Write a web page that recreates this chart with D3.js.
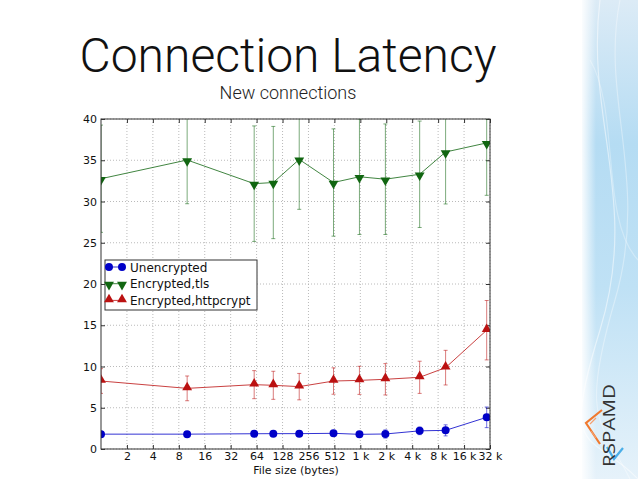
<!DOCTYPE html>
<html>
<head>
<meta charset="utf-8">
<script src="https://cdn.jsdelivr.net/npm/d3@7"></script>
<style>
  html, body { margin: 0; padding: 0; background: #fff; }
  svg { display: block; }
  .tick text { font-family: "DejaVu Sans", sans-serif; }
</style>
</head>
<body>
<script>
// File sizes (bytes) for each measurement.
const sizes = [1, 10, 60, 100, 200, 500, 1000, 2000, 5000, 10000, 30000];

// Latency values.
const unencrypted = [1.8, 1.8, 1.85, 1.86, 1.86, 1.9, 1.78, 1.82, 2.2, 2.26, 3.84];
const unencryptedErr = [0.2, 0.2, 0.3, 0.3, 0.3, 0.3, 0.3, 0.5, 0.46, 0.67, 1.25];
const tls = [32.76, 35.03, 32.16, 32.3, 35.1, 32.3, 33.0, 32.7, 33.3, 36.0, 37.1];
const tlsErr = [6.5, 5.3, 7.0, 6.8, 6.05, 6.5, 7.0, 6.7, 6.45, 6.3, 6.35];
const httpcrypt = [8.24, 7.35, 7.8, 7.72, 7.56, 8.24, 8.32, 8.45, 8.69, 9.86, 14.4];
const httpcryptErr = [1.5, 1.5, 1.7, 1.7, 1.6, 1.6, 1.7, 1.9, 1.95, 2.1, 3.6];

const xTicks = [2, 4, 8, 16, 32, 64, 128, 256, 512, 1024, 2048, 4096, 8192, 16384, 32768];
const yTicks = [0, 5, 10, 15, 20, 25, 30, 35, 40];

const seriesNames = ['Unencrypted', 'Encrypted,tls', 'Encrypted,httpcrypt'];
const seriesColors = ['#0000c8', '#116611', '#bb1111'];
const seriesMarkers = ['circle', 'down', 'up'];

const WIDTH = 638, HEIGHT = 479;
const PLOT = { left: 101, top: 119, right: 490, bottom: 449 };

var svg = d3.select('body').append('svg')
    .attr('width', WIDTH)
    .attr('height', HEIGHT);

// Side strip with the logo.
var defs = svg.append('defs');
var grad = defs.append('linearGradient')
    .attr('id', 'strip')
    .attr('x1', 0).attr('y1', 0).attr('x2', 0).attr('y2', 1);
grad.append('stop').attr('offset', '0%').attr('stop-color', '#dcebf6');
grad.append('stop').attr('offset', '30%').attr('stop-color', '#b5dcf3');
grad.append('stop').attr('offset', '60%').attr('stop-color', '#bfe1f5');
grad.append('stop').attr('offset', '100%').attr('stop-color', '#e6f2fa');
var gradL = defs.append('linearGradient')
    .attr('id', 'stripEdge')
    .attr('x1', 0).attr('y1', 0).attr('x2', 1).attr('y2', 0);
gradL.append('stop').attr('offset', '0%').attr('stop-color', '#fff').attr('stop-opacity', 0.9);
gradL.append('stop').attr('offset', '100%').attr('stop-color', '#fff').attr('stop-opacity', 0);

svg.append('rect')
    .attr('x', 582).attr('y', 0).attr('width', WIDTH - 582).attr('height', HEIGHT)
    .attr('fill', 'url(#strip)');
svg.append('rect')
    .attr('x', 582).attr('y', 0).attr('width', 14).attr('height', HEIGHT)
    .attr('fill', 'url(#stripEdge)');
// a few faint swooshes
[['M 600 0 C 585 120, 640 200, 600 330 S 590 430, 638 479', 0.5],
 ['M 620 0 C 600 100, 650 180, 615 300 S 600 420, 630 479', 0.35],
 ['M 590 60 C 620 110, 600 220, 638 260', 0.3]].forEach(function(p) {
    svg.append('path').attr('d', p[0]).attr('fill', 'none')
        .attr('stroke', '#fff').attr('stroke-opacity', p[1]).attr('stroke-width', 1.2);
});

// Logo.
svg.append('path')
    .attr('d', 'M 602 410 L 586 423 L 600 444')
    .attr('fill', 'none').attr('stroke', '#f07a30').attr('stroke-width', 2.2);
svg.append('path')
    .attr('d', 'M 596 418 L 590 424 M 591 431 L 596 438')
    .attr('fill', 'none').attr('stroke', '#f5a070').attr('stroke-width', 1.2);
svg.append('path')
    .attr('d', 'M 607 447 L 614 459 L 623 448')
    .attr('fill', 'none').attr('stroke', '#4aaee8').attr('stroke-width', 2.2);
svg.append('text')
    .attr('transform', 'translate(615,467) rotate(-90)')
    .attr('font-family', '"Open Sans", "Noto Sans", sans-serif')
    .attr('font-size', 17)
    .attr('textLength', 83)
    .attr('lengthAdjust', 'spacingAndGlyphs')
    .attr('fill', '#333')
    .text('RSPAMD');

// Title.
svg.append('text')
    .attr('x', 288).attr('y', 72)
    .attr('text-anchor', 'middle')
    .attr('font-family', 'Roboto, "Liberation Sans", sans-serif')
    .attr('font-weight', 300)
    .attr('font-size', 48)
    .attr('fill', '#111')
    .text('Connection Latency');
svg.append('text')
    .attr('x', 288).attr('y', 99)
    .attr('text-anchor', 'middle')
    .attr('font-family', 'Roboto, "Liberation Sans", sans-serif')
    .attr('font-weight', 300)
    .attr('font-size', 18)
    .attr('fill', '#222')
    .text('New connections');

// Scales.
var x = d3.scaleLog().base(2).domain([1, 32768]).range([PLOT.left, PLOT.right]);
var y = d3.scaleLinear().domain([0, 40]).range([PLOT.bottom, PLOT.top]);

// Grid.
var grid = svg.append('g');
grid.selectAll('.vgrid').data(xTicks).enter().append('line')
    .attr('x1', d => x(d)).attr('x2', d => x(d))
    .attr('y1', PLOT.top).attr('y2', PLOT.bottom);
grid.selectAll('.hgrid').data(yTicks).enter().append('line')
    .attr('x1', PLOT.left).attr('x2', PLOT.right)
    .attr('y1', d => y(d)).attr('y2', d => y(d));
grid.selectAll('line')
    .attr('stroke', '#a8a8a8')
    .attr('stroke-width', 0.8)
    .attr('stroke-dasharray', '1,2');

// Axes (ticks pointing inwards, like matplotlib's classic style).
var fmt = d => d >= 1024 ? (d / 1024) + ' k' : String(d);
svg.append('g')
    .attr('transform', `translate(0,${PLOT.bottom})`)
    .call(d3.axisBottom(x).tickValues(xTicks).tickFormat(fmt).tickSizeInner(-4).tickSizeOuter(0).tickPadding(3));
svg.append('g')
    .attr('transform', `translate(${PLOT.left},0)`)
    .call(d3.axisLeft(y).tickValues(yTicks).tickSizeInner(-4).tickSizeOuter(0).tickPadding(4));
svg.append('g')
    .attr('transform', `translate(0,${PLOT.top})`)
    .call(d3.axisTop(x).tickValues(xTicks).tickFormat('').tickSizeInner(-4).tickSizeOuter(0));
svg.append('g')
    .attr('transform', `translate(${PLOT.right},0)`)
    .call(d3.axisRight(y).tickValues(yTicks).tickFormat('').tickSizeInner(-4).tickSizeOuter(0));
svg.selectAll('.domain').remove();
svg.selectAll('.tick line').attr('stroke', '#333');
svg.selectAll('.tick text').attr('font-size', 11).attr('fill', '#111');

svg.append('text')
    .attr('x', 296).attr('y', 474)
    .attr('text-anchor', 'middle')
    .attr('font-family', '"DejaVu Sans", sans-serif')
    .attr('font-size', 11)
    .attr('fill', '#111')
    .text('File size (bytes)');

// Data series.
defs.append('clipPath').attr('id', 'plotclip')
    .append('rect')
    .attr('x', PLOT.left).attr('y', PLOT.top)
    .attr('width', PLOT.right - PLOT.left).attr('height', PLOT.bottom - PLOT.top);

var series = [
    { values: unencrypted, errors: unencryptedErr },
    { values: tls, errors: tlsErr },
    { values: httpcrypt, errors: httpcryptErr }
].map((s, i) => ({
    name: seriesNames[i],
    color: seriesColors[i],
    marker: seriesMarkers[i],
    points: sizes.map((sz, j) => ({ x: sz, v: s.values[j], e: s.errors[j] }))
}));

function markerPath(kind) {
    if (kind === 'circle') return d3.symbol().type(d3.symbolCircle).size(50)();
    return d3.symbol().type(d3.symbolTriangle).size(42)();
}
function markerTransform(kind, px, py) {
    return kind === 'down'
        ? `translate(${px},${py + 1}) rotate(180)`
        : `translate(${px},${py - (kind === 'up' ? 1 : 0)})`;
}

var plot = svg.append('g').attr('clip-path', 'url(#plotclip)');
var line = d3.line().x(d => x(d.x)).y(d => y(d.v));

series.forEach(function(s) {
    var g = plot.append('g');
    // error bars
    var eb = g.selectAll('.err').data(s.points).enter().append('g')
        .attr('stroke', s.color).attr('stroke-opacity', 0.55).attr('stroke-width', 1);
    eb.append('line')
        .attr('x1', d => x(d.x)).attr('x2', d => x(d.x))
        .attr('y1', d => y(d.v - d.e)).attr('y2', d => y(d.v + d.e));
    eb.append('line')
        .attr('x1', d => x(d.x) - 2).attr('x2', d => x(d.x) + 2)
        .attr('y1', d => y(d.v - d.e)).attr('y2', d => y(d.v - d.e));
    eb.append('line')
        .attr('x1', d => x(d.x) - 2).attr('x2', d => x(d.x) + 2)
        .attr('y1', d => y(d.v + d.e)).attr('y2', d => y(d.v + d.e));
    // line
    g.append('path')
        .datum(s.points)
        .attr('d', line)
        .attr('fill', 'none')
        .attr('stroke', s.color)
        .attr('stroke-opacity', 0.8)
        .attr('stroke-width', 1);
    // markers
    g.selectAll('.mk').data(s.points).enter().append('path')
        .attr('d', markerPath(s.marker))
        .attr('transform', d => markerTransform(s.marker, x(d.x), y(d.v)))
        .attr('fill', s.color);
});

// Frame.
svg.append('rect')
    .attr('x', PLOT.left).attr('y', PLOT.top)
    .attr('width', PLOT.right - PLOT.left).attr('height', PLOT.bottom - PLOT.top)
    .attr('fill', 'none').attr('stroke', '#333').attr('stroke-width', 1);

// Legend.
var legend = svg.append('g').attr('transform', 'translate(105,260)');
legend.append('rect')
    .attr('width', 152).attr('height', 50)
    .attr('fill', '#fff').attr('stroke', '#333').attr('stroke-width', 1);
var item = legend.selectAll('.item').data(series).enter().append('g')
    .attr('transform', (d, i) => `translate(0,${7 + i * 16.7})`);
item.append('line')
    .attr('x1', 4).attr('x2', 17).attr('y1', 0).attr('y2', 0)
    .attr('stroke', d => d.color).attr('stroke-opacity', 0.8);
[4, 17].forEach(function(mx) {
    item.append('path')
        .attr('d', d => markerPath(d.marker))
        .attr('transform', d => markerTransform(d.marker, mx, 0))
        .attr('fill', d => d.color);
});
item.append('text')
    .attr('x', 25).attr('y', 4.5)
    .attr('font-family', '"DejaVu Sans", sans-serif')
    .attr('font-size', 12)
    .attr('fill', '#111')
    .text(d => d.name);
</script>
</body>
</html>
